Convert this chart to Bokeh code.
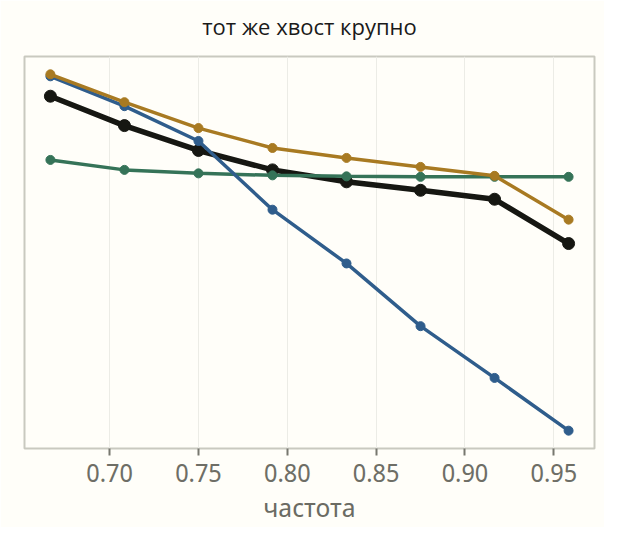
from bokeh.plotting import figure
from bokeh.embed import file_html
from bokeh.resources import INLINE
from bokeh.models import FixedTicker, NumeralTickFormatter, Title

# data
x = [16/24, 17/24, 18/24, 19/24, 20/24, 21/24, 22/24, 23/24]
blue = [0.850, 0.790, 0.720, 0.582, 0.474, 0.348, 0.244, 0.138]
gold = [0.854, 0.798, 0.746, 0.706, 0.686, 0.668, 0.650, 0.562]
black = [0.810, 0.751, 0.701, 0.662, 0.638, 0.621, 0.603, 0.514]
green = [0.682, 0.662, 0.655, 0.651, 0.649, 0.648, 0.648, 0.648]
xticks = [0.70, 0.75, 0.80, 0.85, 0.90, 0.95]
title = "тот же хвост крупно"
xlabel = "частота"

FONT = "Open Sans"
AXFONT = "Noto Sans Display"
BG = "#fffef9"

p = figure(width=604, height=527, output_backend="svg", toolbar_location=None,
           background_fill_color=BG, border_fill_color=BG,
           min_border_left=24, min_border_right=10, min_border_top=10, min_border_bottom=14)
p.title = None

# blank spacer at the very top, then the real title nearer the frame
p.add_layout(Title(text=" ", text_font_size="2px", standoff=4, background_fill_color=None), "above")
p.add_layout(Title(text=title, text_font=FONT, text_font_size="22px", text_font_style="normal",
                   text_color="#1a1a1a", align="center", standoff=16), "above")

p.outline_line_color = "#c9c9c0"
p.outline_line_width = 2

p.yaxis.visible = False
p.ygrid.visible = False
p.xgrid.grid_line_color = "#ecece6"
p.xgrid.grid_line_width = 1

ax = p.xaxis[0]
ax.ticker = FixedTicker(ticks=xticks)
ax.formatter = NumeralTickFormatter(format="0.00")
ax.axis_label = xlabel
ax.axis_label_text_font = AXFONT
ax.axis_label_text_font_size = "26px"
ax.axis_label_text_font_style = "normal"
ax.axis_label_text_color = "#6b6b63"
ax.axis_label_standoff = 4
ax.major_label_text_font = AXFONT
ax.major_label_text_font_size = "25px"
ax.major_label_text_color = "#6e6e66"
ax.major_label_standoff = 8
ax.axis_line_color = None
ax.major_tick_line_color = "#77776f"
ax.major_tick_line_width = 2
ax.major_tick_out = 7
ax.major_tick_in = 0
ax.minor_tick_line_color = None

series = [
    (black, "#161712", 5.5, 12),
    (green, "#357358", 3.5, 9),
    (blue, "#2f5d8c", 3.5, 9),
    (gold, "#a87a22", 3.5, 9),
]
for ys, c, lw, ms in series:
    p.line(x, ys, line_color=c, line_width=lw)
    p.scatter(x, ys, size=ms, fill_color=c, line_color=c)

open("out.html", "w").write(file_html(p, INLINE))
